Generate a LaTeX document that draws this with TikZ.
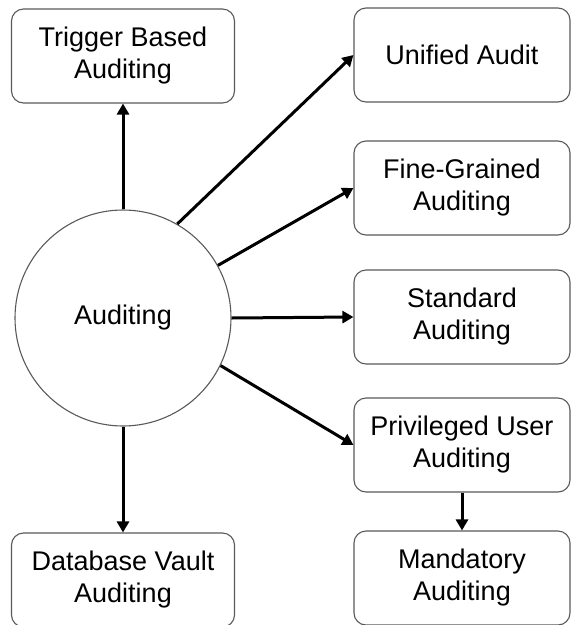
\documentclass[tikz,border=0pt]{standalone}
\usepackage{fontspec}
\setmainfont{Liberation Sans}
\usetikzlibrary{arrows.meta}
\begin{document}
\begin{tikzpicture}[x=1pt, y=-1pt, node distance = 262pt,
    font=\fontsize{27}{32}\selectfont,
    box/.style={draw=black!65, line width=1.1pt, rounded corners=12pt, minimum width=216pt, minimum height=94pt, align=center},
    hub/.style={draw=black!65, line width=1.1pt, circle, minimum size=216pt},
    arr/.style={line width=3pt, -{Triangle[length=11pt, width=12pt]}}]
      \useasboundingbox (0,0) rectangle (571,625);

      \node[hub] (c) at (123,318) {Auditing};
      \node[box, minimum width=223pt] (tb) [above of = c] {Trigger Based\\Auditing};
      \node[box, minimum width=223pt] (dv) [below of = c] {Database Vault\\Auditing};

      \node[box] (ua) at (462,55) {Unified Audit};
      \node[box] (fg) at (462,188) {Fine-Grained\\Auditing};
      \node[box] (sa) at (462,317) {Standard\\Auditing};
      \node[box] (pu) at (462,445) {Privileged User\\Auditing};
      \node[box] (ma) at (462,578) {Mandatory\\Auditing};

      \path[arr] (c) edge (tb);
      \path[arr] (c) edge (dv);
      \path[arr] (c.60) edge (ua.west);
      \path[arr] (c.29) edge (fg.west);
      \path[arr] (c.0) edge (sa.west);
      \path[arr] (c.-26) edge (pu.west);
      \path[arr] (pu) edge (ma);
    \end{tikzpicture}
\end{document}
